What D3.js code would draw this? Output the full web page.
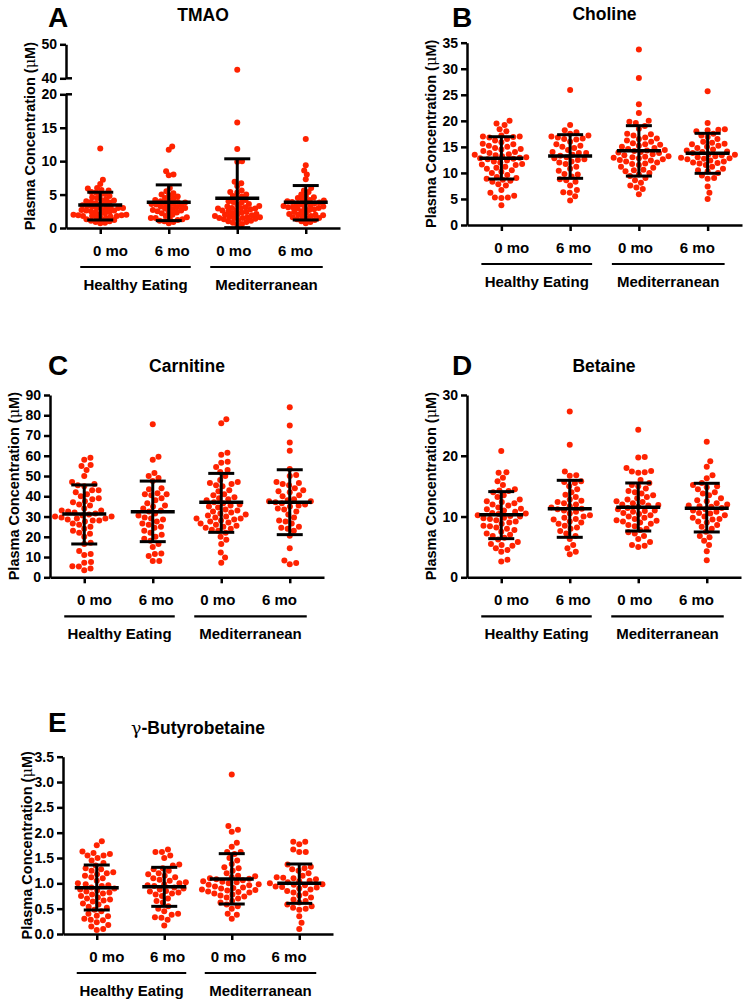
<!DOCTYPE html>
<html><head><meta charset="utf-8">
<script src="https://cdn.jsdelivr.net/npm/d3@7"></script>
<style>body{margin:0;background:#fff}svg{display:block}</style>
</head><body>
<svg id="chart" width="748" height="1000"></svg>
<script>
// ---------- DATA ----------
const categories = ["0 mo", "6 mo", "0 mo", "6 mo"];
const dietGroups = ["Healthy Eating", "Mediterranean"];
const panelLetters = ["A", "B", "C", "D", "E"];
const panelTitles = ["TMAO", "Choline", "Carnitine", "Betaine", "-Butyrobetaine"];
const titlePrefix = ["", "", "", "", "\u03B3"];
const yAxisTitle = ["Plasma Concentration (", "\u03BC", "M)"];

// TMAO
const tmaoHE0 = [11.9,7.2,6.6,6.0,5.9,5.7,5.6,5.4,5.3,5.1,5.0,4.8,4.6,4.5,4.3,4.2,4.0,3.9,3.8,3.7,3.6,3.5,3.4,3.3,3.2,3.1,3.0,3.0,2.9,2.8,2.7,2.6,2.5,2.4,2.3,2.2,2.1,2.0,2.0,1.9,1.9,1.8,1.8,1.7,1.6,1.5,1.4,1.3,1.2,1.1,1.0,0.9,0.8,0.7,4.1,2.6,3.0,1.8];
const tmaoHE6 = [12.2,11.7,8.5,8.0,7.9,6.0,5.5,5.2,5.0,4.9,4.7,4.5,4.4,4.2,4.1,4.0,3.9,3.8,3.7,3.6,3.5,3.4,3.3,3.2,3.1,3.0,2.9,2.8,2.7,2.6,2.5,2.3,2.2,2.0,1.8,1.6,1.5,1.5,1.4,1.3,1.2,1.0,0.9,0.7,1.1,2.4,3.6];
const tmaoMed0 = [42.5,15.8,11.8,10.0,9.9,6.9,6.3,5.6,5.4,5.3,5.0,4.8,4.7,4.5,4.2,4.0,3.9,3.6,3.5,3.3,3.2,3.1,3.0,2.9,2.8,2.7,2.6,2.5,2.4,2.3,2.2,2.1,2.0,1.9,1.8,1.7,1.6,1.5,1.5,1.4,1.3,1.2,1.1,1.0,0.9,0.8,0.6,0.5,3.0,2.0,1.5,6.7,3.8,2.9,1.6];
const tmaoMed6 = [13.3,9.4,8.6,8.0,7.3,6.0,5.6,5.4,5.0,4.8,4.6,4.5,4.3,4.2,4.0,3.9,3.8,3.7,3.6,3.5,3.4,3.3,3.2,3.1,3.0,3.0,2.9,2.8,2.7,2.5,2.4,2.2,2.1,2.0,1.9,1.8,1.7,1.6,1.5,1.4,1.3,1.2,1.0,0.9,0.7,3.1,2.0,3.8,4.1];
const tmaoMean = [3.45, 3.85, 4.45, 3.85];
const tmaoSdLow = [1.2, 1.1, 0.05, 1.2];
const tmaoSdHigh = [5.35, 6.45, 10.35, 6.35];
const tmaoTicksLower = [0, 5, 10, 15, 20];
const tmaoTicksUpper = [40, 50];

// Choline
const cholHE0 = [20.0,19.5,19.2,18.4,18.0,17.2,17.0,16.9,16.8,16.5,16.2,15.9,15.5,15.2,15.0,14.8,14.5,14.2,14.0,13.8,13.6,13.4,13.2,13.0,12.8,12.6,12.4,12.2,12.0,11.7,11.5,11.2,11.0,10.8,10.5,10.2,10.0,9.6,9.2,8.9,8.7,8.5,8.3,7.8,7.6,6.7,6.2,5.6,5.3,5.3,5.2,3.8,13.5,12.7,14.6,11.6,15.6,17.0,9.0,12.9];
const cholHE6 = [25.9,19.2,18.2,17.8,17.5,17.2,17.0,16.8,16.5,16.4,16.0,15.5,15.2,15.0,14.8,14.4,14.0,13.8,13.5,13.3,13.0,12.8,12.5,12.2,12.0,11.7,11.2,10.8,10.4,9.8,9.7,9.3,8.8,8.6,8.3,7.6,6.7,6.3,6.2,5.5,4.7,16.6,13.8,12.6];
const cholMed0 = [33.7,28.2,23.2,21.5,20.0,19.8,19.6,19.0,18.5,17.5,17.4,17.2,16.8,16.5,16.2,16.0,15.7,15.4,15.2,15.0,14.8,14.6,14.4,14.2,14.0,13.8,13.6,13.4,13.2,13.0,12.8,12.6,12.4,12.2,12.0,11.8,11.5,11.2,11.0,10.6,10.3,10.0,9.7,9.4,9.0,8.6,8.1,7.6,7.2,6.9,5.9,14.3,13.1,12.5,15.5,11.7,10.5,13.9,12.9,16.6];
const cholMed6 = [25.7,19.6,18.4,18.3,18.2,18.0,17.5,17.2,16.9,16.5,16.0,15.8,15.5,15.2,15.0,14.8,14.5,14.3,14.0,13.8,13.6,13.4,13.2,13.0,12.8,12.6,12.4,12.2,12.0,11.8,11.5,11.2,10.8,10.5,10.3,10.0,9.5,9.0,8.9,7.4,6.2,5.0,14.1,12.9,13.5,12.7,15.6,11.9];
const cholMean = [12.8, 13.24, 14.27, 13.76];
const cholSdLow = [8.83, 8.96, 9.4, 9.92];
const cholSdHigh = [16.95, 17.34, 19.07, 17.6];
const cholTicks = [0, 5, 10, 15, 20, 25, 30, 35];

// Carnitine
const carnHE0 = [59.0,58.0,55.5,55.0,53.0,50.0,47.0,46.0,45.5,45.0,43.0,43.0,42.0,40.0,39.0,38.5,37.0,36.0,35.5,34.0,33.0,32.5,32.0,31.5,31.0,30.5,30.0,29.5,29.0,28.5,28.0,28.0,27.5,26.5,26.0,25.0,24.0,23.0,22.0,21.5,20.0,17.0,16.5,13.0,11.5,11.0,7.5,7.2,5.5,5.3,4.3,3.5,33.0,30.0,29.0,37.5,41.0];
const carnHE6 = [75.5,59.5,58.0,51.5,50.0,49.0,47.5,44.0,43.5,41.5,41.0,40.5,39.0,38.0,36.5,35.5,34.0,33.0,32.5,31.5,30.5,29.0,28.5,27.5,26.0,25.0,24.5,23.0,22.0,21.0,20.0,19.0,18.0,16.5,15.0,11.8,11.5,10.5,8.0,8.0,41.0,29.5,26.5,35.0];
const carnMed0 = [78.0,76.0,61.5,60.5,57.0,56.5,54.5,53.0,52.0,50.0,48.0,47.0,46.5,46.0,45.5,45.0,43.0,42.5,41.0,40.5,39.5,39.0,38.5,38.0,37.0,36.5,36.0,35.0,34.5,33.5,33.0,32.0,31.5,31.0,30.5,30.0,29.5,29.0,28.5,28.0,27.5,27.0,26.5,26.0,25.5,25.0,24.5,24.0,23.5,23.0,22.0,20.0,18.5,16.5,12.2,9.8,7.2,35.5,32.5,29.0];
const carnMed6 = [84.0,75.0,66.5,62.5,53.5,50.5,50.0,47.0,46.5,46.0,45.5,43.0,42.5,42.0,40.5,38.5,38.0,37.5,37.0,36.5,36.0,35.5,35.0,34.0,33.5,32.5,31.0,29.5,28.0,27.5,26.5,25.0,24.5,24.0,23.0,20.5,14.3,8.3,7.0,6.5,40.0,37.5,44.0];
const carnMean = [31.26, 32.4, 37.0, 37.0];
const carnSdLow = [16.45, 17.6, 22.2, 21.06];
const carnSdHigh = [45.6, 47.5, 51.3, 53.1];
const carnTicks = [0, 10, 20, 30, 40, 50, 60, 70, 80, 90];

// Betaine
const betHE0 = [20.8,17.3,17.2,16.4,15.8,15.2,14.5,14.3,14.2,14.0,13.5,13.2,12.8,12.5,12.2,12.0,11.8,11.5,11.3,11.0,10.8,10.6,10.4,10.2,10.0,9.8,9.6,9.4,9.2,9.0,8.8,8.5,8.2,8.0,7.8,7.5,7.2,7.0,6.8,6.5,6.2,5.8,5.5,5.3,5.2,4.8,4.5,4.2,2.9,2.6,10.5,11.2,9.7,12.4,8.4,10.1];
const betHE6 = [27.3,21.8,17.4,16.8,16.7,15.8,15.7,15.5,15.0,14.5,14.0,13.6,13.2,12.8,12.4,12.2,12.0,11.7,11.5,11.2,11.0,10.8,10.5,10.2,10.0,9.8,9.6,9.2,9.0,8.8,8.5,8.2,8.0,7.6,7.2,6.8,6.3,5.3,4.8,4.2,3.8,11.3,12.6,9.5];
const betMed0 = [24.3,19.8,19.7,18.0,17.5,17.4,17.3,17.2,16.0,15.5,15.2,15.0,14.6,14.2,14.0,13.8,13.5,13.2,13.0,12.8,12.5,12.2,12.0,11.8,11.6,11.4,11.2,11.0,10.8,10.6,10.4,10.2,10.0,9.8,9.6,9.4,9.2,9.0,8.8,8.6,8.4,8.0,7.8,7.4,7.2,6.8,6.3,5.8,5.3,5.2,5.0,11.9,10.9,12.4,9.3];
const betMed6 = [22.3,19.1,18.2,16.8,16.3,15.5,15.2,15.0,14.8,14.5,14.0,13.8,13.5,13.0,12.5,12.2,12.0,11.8,11.6,11.4,11.2,11.0,10.8,10.5,10.2,10.0,9.8,9.5,9.2,9.0,8.6,8.3,8.0,7.5,6.8,6.6,6.0,5.3,4.3,2.8,11.7,12.7,9.6,10.6];
const betMean = [10.3, 11.3, 11.52, 11.35];
const betSdLow = [6.36, 6.58, 7.62, 7.46];
const betSdHigh = [14.1, 15.96, 15.52, 15.47];
const betTicks = [0, 10, 20, 30];

// gamma-Butyrobetaine
const gbbHE0 = [1.83,1.75,1.63,1.60,1.58,1.55,1.55,1.50,1.45,1.40,1.35,1.30,1.25,1.22,1.20,1.15,1.10,1.05,1.00,0.98,0.95,0.92,0.90,0.88,0.86,0.84,0.82,0.80,0.78,0.75,0.70,0.66,0.64,0.60,0.58,0.54,0.52,0.45,0.40,0.36,0.35,0.30,0.28,0.27,0.23,0.18,0.15,0.10,0.08,1.28,0.68,1.12,0.72,1.18,0.96,0.48];
const gbbHE6 = [1.67,1.62,1.62,1.55,1.50,1.37,1.35,1.30,1.28,1.25,1.20,1.18,1.15,1.12,1.10,1.05,1.02,1.00,0.98,0.95,0.92,0.90,0.88,0.85,0.82,0.80,0.78,0.75,0.70,0.65,0.62,0.55,0.50,0.45,0.40,0.38,0.33,0.32,0.28,0.17,0.96,0.84,1.07];
const gbbMed0 = [3.15,2.13,2.06,2.02,1.80,1.72,1.62,1.62,1.58,1.50,1.45,1.38,1.32,1.30,1.25,1.20,1.15,1.12,1.10,1.08,1.06,1.04,1.02,1.00,0.98,0.96,0.94,0.92,0.90,0.88,0.86,0.84,0.82,0.80,0.78,0.76,0.74,0.72,0.70,0.65,0.62,0.58,0.55,0.50,0.40,0.38,0.30,1.09,0.97,0.91,1.14,0.83,1.03,0.87];
const gbbMed6 = [1.82,1.82,1.77,1.67,1.62,1.62,1.37,1.33,1.30,1.28,1.25,1.20,1.15,1.12,1.10,1.08,1.05,1.02,1.00,0.98,0.96,0.94,0.92,0.90,0.88,0.85,0.82,0.80,0.76,0.72,0.68,0.65,0.62,0.58,0.55,0.52,0.50,0.48,0.35,0.22,0.10,1.04,0.97,1.11,0.93];
const gbbMean = [0.914, 0.934, 1.086, 1.0];
const gbbSdLow = [0.474, 0.546, 0.592, 0.605];
const gbbSdHigh = [1.362, 1.316, 1.586, 1.382];
const gbbTicks = [0, 0.5, 1.0, 1.5, 2.0, 2.5, 3.0, 3.5];

// ---------- LAYOUT ----------
const FONT = "'Liberation Sans', Arial, Helvetica, sans-serif";
const SYMFONT = "'DejaVu Serif', 'Liberation Serif', serif";
const DOT = "#ff2200";
const R = 3;

const panels = [
  {letter: panelLetters[0], title: panelTitles[0], prefix: titlePrefix[0], groups: [tmaoHE0, tmaoHE6, tmaoMed0, tmaoMed6],
   mean: tmaoMean, lo: tmaoSdLow, hi: tmaoSdHigh, broken: true, sep: 4.8,
   x0: 66, x1: 340, y0: 228, yTop: 44.3, lowerTop: 94.3, upperBottom: 78.3,
   lowerDomain: [0, 20], upperDomain: [40, 50], ticksLower: tmaoTicksLower, ticksUpper: tmaoTicksUpper,
   fmt: d3.format("d"), letterPos: [48, 27]},
  {letter: panelLetters[1], title: panelTitles[1], prefix: titlePrefix[1], groups: [cholHE0, cholHE6, cholMed0, cholMed6],
   mean: cholMean, lo: cholSdLow, hi: cholSdHigh, sep: 6.5,
   x0: 467, x1: 742, y0: 225, yTop: 42.7, domain: [0, 35], ticks: cholTicks,
   fmt: d3.format("d"), letterPos: [452, 27]},
  {letter: panelLetters[2], title: panelTitles[2], prefix: titlePrefix[2], groups: [carnHE0, carnHE6, carnMed0, carnMed6],
   mean: carnMean, lo: carnSdLow, hi: carnSdHigh, sep: 6.5,
   x0: 50, x1: 324, y0: 577.3, yTop: 395, domain: [0, 90], ticks: carnTicks,
   fmt: d3.format("d"), letterPos: [48, 375]},
  {letter: panelLetters[3], title: panelTitles[3], prefix: titlePrefix[3], groups: [betHE0, betHE6, betMed0, betMed6],
   mean: betMean, lo: betSdLow, hi: betSdHigh, sep: 6.5,
   x0: 467, x1: 741, y0: 577.3, yTop: 395, domain: [0, 30], ticks: betTicks,
   fmt: d3.format("d"), letterPos: [452, 375]},
  {letter: panelLetters[4], title: panelTitles[4], prefix: titlePrefix[4], groups: [gbbHE0, gbbHE6, gbbMed0, gbbMed6],
   mean: gbbMean, lo: gbbSdLow, hi: gbbSdHigh, sep: 6.5,
   x0: 63, x1: 333, y0: 934, yTop: 756.7, domain: [0, 3.5], ticks: gbbTicks,
   fmt: d3.format(".1f"), letterPos: [48, 732]}
];

const svg = d3.select("#chart");

// beeswarm: each point placed at the free horizontal offset closest to the group centre
function swarm(vals, yFn, cx, d) {
  const pts = vals.map(v => ({v, y: yFn(v), x: 0})).sort((a, b) => b.y - a.y);
  const placed = [];
  pts.forEach(p => {
    const near = placed.filter(q => Math.abs(q.y - p.y) < d);
    const cands = [0];
    near.forEach(q => {
      const dx = Math.sqrt(d * d - (q.y - p.y) ** 2);
      cands.push(q.x + dx, q.x - dx);
    });
    cands.sort((a, b) => Math.abs(a) - Math.abs(b) || b - a);
    for (const c of cands) {
      if (near.every(q => (q.x - c) ** 2 + (q.y - p.y) ** 2 >= d * d - 0.01)) { p.x = c; break; }
    }
    placed.push(p);
  });
  return placed.map(p => ({v: p.v, x: cx + p.x, y: p.y}));
}

function styleAxis(g) {
  g.selectAll("path.domain").attr("stroke", "#000").attr("stroke-width", 2.5);
  g.selectAll(".tick line").attr("stroke", "#000").attr("stroke-width", 2.5);
  g.selectAll(".tick text").attr("fill", "#000")
    .style("font-family", FONT).style("font-weight", "bold").style("font-size", "14px");
}

panels.forEach(P => {
  const g = svg.append("g");
  let yFn;
  if (P.broken) {
    const yl = d3.scaleLinear().domain(P.lowerDomain).range([P.y0, P.lowerTop]);
    const yu = d3.scaleLinear().domain(P.upperDomain).range([P.upperBottom, P.yTop]);
    yFn = v => v > 30 ? yu(v) : yl(v);
    const al = g.append("g").attr("transform", `translate(${P.x0},0)`)
      .call(d3.axisLeft(yl).tickValues(P.ticksLower).tickFormat(P.fmt).tickSize(6).tickSizeOuter(0).tickPadding(3));
    styleAxis(al);
    const au = g.append("g").attr("transform", `translate(${P.x0},0)`)
      .call(d3.axisLeft(yu).tickValues(P.ticksUpper).tickFormat(P.fmt).tickSize(6).tickSizeOuter(0).tickPadding(3));
    styleAxis(au);
    [yl(P.lowerDomain[1]), yu(P.upperDomain[0])].forEach(yy => {
      g.append("line").attr("x1", P.x0).attr("x2", P.x0 + 6).attr("y1", yy).attr("y2", yy)
        .attr("stroke", "#000").attr("stroke-width", 2.5);
    });
  } else {
    const y = d3.scaleLinear().domain(P.domain).range([P.y0, P.yTop]);
    yFn = y;
    const ay = g.append("g").attr("transform", `translate(${P.x0},0)`)
      .call(d3.axisLeft(y).tickValues(P.ticks).tickFormat(P.fmt).tickSize(6).tickSizeOuter(0).tickPadding(3));
    styleAxis(ay);
  }
  const x = d3.scalePoint().domain(d3.range(categories.length)).range([P.x0, P.x1]).padding(0.5);
  const ax = g.append("g").attr("transform", `translate(0,${P.y0})`)
    .call(d3.axisBottom(x).tickFormat("").tickSize(6).tickSizeOuter(0));
  styleAxis(ax);

  const mid = (x(0) + x(3)) / 2;
  g.selectAll("text.cat").data(categories).join("text")
    .attr("x", (d, i) => mid + (x(i) - mid) * 0.9)
    .attr("y", P.y0 + 28)
    .attr("text-anchor", "middle")
    .style("font-family", FONT).style("font-weight", "bold").style("font-size", "15px")
    .text(d => d);

  const spans = [[x(0) - 20, x(1) + 22], [x(2) - 27, x(3) + 17]];
  dietGroups.forEach((name, i) => {
    g.append("line").attr("x1", spans[i][0]).attr("x2", spans[i][1])
      .attr("y1", P.y0 + 39).attr("y2", P.y0 + 39).attr("stroke", "#000").attr("stroke-width", 2.2);
    g.append("text").attr("x", (spans[i][0] + spans[i][1]) / 2).attr("y", P.y0 + 62)
      .attr("text-anchor", "middle")
      .style("font-family", FONT).style("font-weight", "bold").style("font-size", "15px")
      .text(name);
  });

  const ymid = (P.y0 + P.yTop) / 2;
  const yt = g.append("text")
    .attr("transform", `translate(${P.x0 - 36},${ymid}) rotate(-90)`)
    .attr("text-anchor", "middle").attr("dominant-baseline", "central")
    .style("font-family", FONT).style("font-weight", "bold").style("font-size", "14.5px");
  yt.append("tspan").text(yAxisTitle[0]);
  yt.append("tspan").style("font-family", SYMFONT).style("font-weight", "normal").text(yAxisTitle[1]);
  yt.append("tspan").text(yAxisTitle[2]);

  const tt = g.append("text").attr("x", (P.x0 + P.x1) / 2).attr("y", P.yTop - 23)
    .attr("text-anchor", "middle")
    .style("font-family", FONT).style("font-weight", "bold").style("font-size", "17.5px");
  if (P.prefix) tt.append("tspan").style("font-family", SYMFONT).style("font-weight", "normal").text(P.prefix);
  tt.append("tspan").text(P.title);

  g.append("text").attr("x", P.letterPos[0]).attr("y", P.letterPos[1])
    .style("font-family", FONT).style("font-weight", "bold").style("font-size", "28px")
    .text(P.letter);

  P.groups.forEach((vals, i) => {
    const pts = swarm(vals, yFn, x(i), P.sep);
    g.append("g").selectAll("circle").data(pts).join("circle")
      .attr("cx", d => d.x).attr("cy", d => d.y).attr("r", R).attr("fill", DOT);
  });

  P.groups.forEach((vals, i) => {
    const cx = x(i);
    const eb = g.append("g").attr("stroke", "#000");
    eb.append("line").attr("x1", cx).attr("x2", cx).attr("y1", yFn(P.lo[i])).attr("y2", yFn(P.hi[i])).attr("stroke-width", 3);
    [P.lo[i], P.hi[i]].forEach(v => {
      eb.append("line").attr("x1", cx - 13).attr("x2", cx + 13).attr("y1", yFn(v)).attr("y2", yFn(v)).attr("stroke-width", 3);
    });
    eb.append("line").attr("x1", cx - 22).attr("x2", cx + 22).attr("y1", yFn(P.mean[i])).attr("y2", yFn(P.mean[i])).attr("stroke-width", 3.5);
  });
});
</script>
</body></html>
